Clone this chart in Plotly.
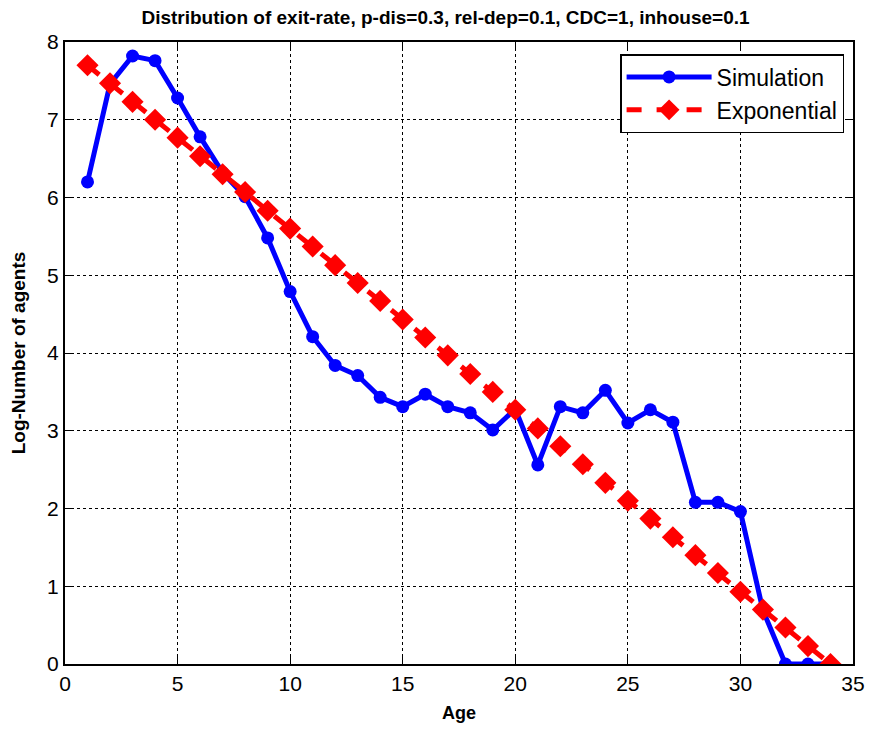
import plotly.graph_objects as go

# Age bins and log-counts of agents
ages = list(range(1, 35))
simulation = [6.20, 7.46, 7.82, 7.76, 7.28, 6.78, 6.32, 6.01, 5.48, 4.79,
              4.21, 3.84, 3.71, 3.43, 3.31, 3.47, 3.31, 3.23, 3.01, 3.28,
              2.56, 3.31, 3.23, 3.52, 3.10, 3.27, 3.11, 2.08, 2.08, 1.96,
              0.69, 0.00, 0.00, 0.00]
exponential = [7.70, 7.47, 7.23, 7.00, 6.77, 6.53, 6.30, 6.07, 5.83, 5.60,
               5.37, 5.13, 4.90, 4.67, 4.43, 4.20, 3.97, 3.73, 3.50, 3.27,
               3.03, 2.80, 2.57, 2.33, 2.10, 1.87, 1.63, 1.40, 1.17, 0.93,
               0.70, 0.47, 0.23, 0.00]

x_ticks = [0, 5, 10, 15, 20, 25, 30, 35]
y_ticks = [0, 1, 2, 3, 4, 5, 6, 7, 8]

bold_font = "Liberation Sans Narrow, Arial Narrow, Liberation Sans, Arial"
regular = "Liberation Sans, Arial, Helvetica"

fig = go.Figure()
fig.add_trace(go.Scatter(
    x=ages, y=simulation, name="Simulation", mode="lines+markers",
    line=dict(color="#0000ff", width=5),
    marker=dict(symbol="circle", size=13, color="#0000ff"),
))
fig.add_trace(go.Scatter(
    x=ages, y=exponential, name="Exponential", mode="lines+markers",
    line=dict(color="#ff0000", width=5, dash="dash"),
    marker=dict(symbol="diamond", size=17, color="#ff0000"),
))

axis_common = dict(
    showline=True, linecolor="black", linewidth=2, mirror="ticks",
    ticks="inside", ticklen=7, tickwidth=1, tickcolor="black",
    showgrid=True, gridcolor="black", gridwidth=1, griddash="dot",
    zeroline=False, tickfont=dict(family=regular, size=21, color="black"),
)

fig.update_xaxes(range=[0, 35], tickvals=x_ticks,
                 title=dict(text="<b>Age</b>", font=dict(family=bold_font, size=18, color="black"), standoff=12),
                 **axis_common)
fig.update_yaxes(range=[0, 8], tickvals=y_ticks,
                 title=dict(text="<b>Log-Number of agents</b>", font=dict(family=bold_font, size=19, color="black"), standoff=16),
                 **axis_common)

fig.update_layout(
    width=877, height=732,
    margin=dict(l=65, r=19, t=42, b=68),
    paper_bgcolor="white", plot_bgcolor="white",
    title=dict(text="<b>Distribution of exit-rate, p-dis=0.3, rel-dep=0.1, CDC=1, inhouse=0.1</b>",
               font=dict(family=bold_font, size=19, color="black"),
               x=0.508, xanchor="center", y=0.976, yanchor="middle"),
    legend=dict(x=0.9887, y=0.9807, xanchor="right", yanchor="top",
                bgcolor="white", bordercolor="black", borderwidth=1.5,
                font=dict(family=regular, size=23, color="black"),
                itemwidth=85, tracegroupgap=4),
    showlegend=True,
)

fig.write_html("out.html")
